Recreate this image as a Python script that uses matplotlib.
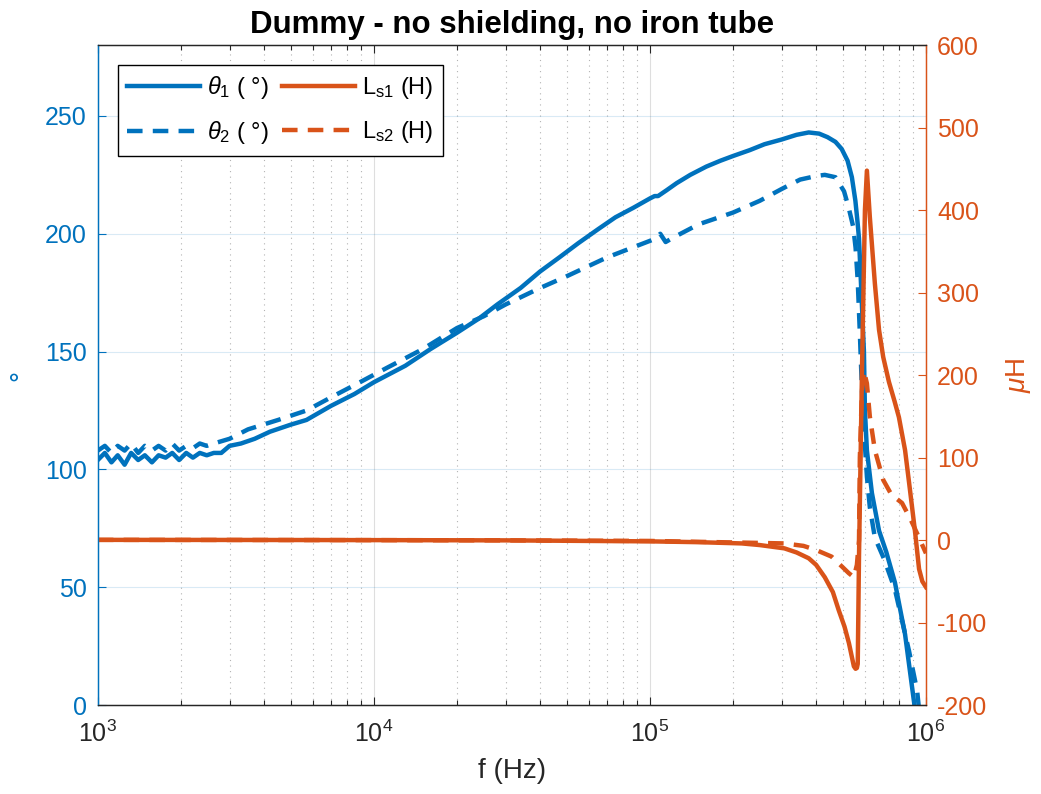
import numpy as np
import matplotlib
matplotlib.use("Agg")
import matplotlib.pyplot as plt

plt.rcParams['font.family'] = ['Liberation Sans', 'DejaVu Sans']
plt.rcParams['mathtext.fontset'] = 'custom'
plt.rcParams['mathtext.rm'] = 'Liberation Sans'
plt.rcParams['mathtext.it'] = 'Liberation Sans:italic'
plt.rcParams['mathtext.bf'] = 'Liberation Sans:bold'
plt.rcParams['axes.unicode_minus'] = False

BLUE = '#0072BD'
ORANGE = '#D95319'
DARK = '#262626'

# ---------------- data ----------------
f_theta1 = [1000, 1060, 1120, 1180, 1250, 1320, 1400, 1480, 1570, 1660, 1760, 1860,
            1970, 2090, 2210, 2340, 2480, 2630, 2800, 3000, 3300, 3700, 4200, 5000,
            5700, 7000, 8500, 10000, 13000, 16000, 20000, 24000, 28000, 34000, 40000,
            47000, 55000, 65000, 75000, 87000, 100000, 104000, 107000, 115000, 125000,
            140000, 160000, 180000, 200000, 230000, 260000, 300000, 340000, 376000,
            410000, 440000, 470000, 495000, 520000, 539000, 555000, 565000, 572000,
            586000, 596000, 601000, 611000, 637000, 676000, 718000, 772000, 840000,
            906000, 930000]
theta1 = [104, 107, 103, 106, 102, 107, 104, 106, 103, 106, 105, 107,
          104, 107, 105, 107, 106, 107, 107, 110, 111, 113, 116, 119,
          121, 127, 132, 137, 144, 151, 158, 164, 170, 177, 184,
          190, 196, 202, 207, 211, 215, 216, 216, 218.5, 221.5,
          225, 228.5, 231, 233, 235.5, 238, 240, 242, 243,
          242.5, 241, 239, 236, 231, 224, 214, 205, 198,
          170, 150, 125, 108, 90, 74, 65, 52, 30,
          1, -10]

f_theta2 = [1000, 1060, 1120, 1180, 1250, 1320, 1400, 1480, 1570, 1660, 1760, 1860,
            1970, 2090, 2210, 2340, 2480, 2630, 3000, 3500, 4500, 5700, 7100, 8900,
            11100, 15000, 20000, 25000, 30000, 40000, 50000, 70000, 100000, 105000,
            109000, 114000, 122000, 150000, 200000, 250000, 300000, 350000, 400000,
            430000, 470000, 505000, 525000, 545000, 556000, 566000, 576000, 590000,
            611000, 626000, 653000, 705000, 772000, 868000, 929000, 950000]
theta2 = [108, 110, 107, 110, 108, 111, 107, 110, 108, 110, 108, 111,
          108, 110, 109, 111, 110, 111, 113, 117, 121, 125, 131, 137,
          143, 151, 160, 165, 170, 177, 182, 190, 197, 198,
          200, 196.5, 198.5, 204, 209, 214, 219, 223, 224.5,
          225, 224, 218, 211, 203, 194, 180, 158, 125,
          97, 84, 71, 62, 49, 23, 6, -5]

f_Ls1 = [1000, 3000, 10000, 30000, 100000, 150000, 215000, 250000, 307000, 340000,
         376000, 400000, 430000, 460000, 483000, 507000, 526000, 540000, 548000,
         556000, 562000, 566000, 572000, 586000, 601000, 611000, 626000, 653000,
         676000, 700000, 734000, 770000, 798000, 840000, 875000, 913000, 944000,
         970000, 1000000]
Ls1 = [0.3, 0.2, 0, -0.3, -1.5, -2.5, -4, -6, -10, -15,
       -22, -30, -45, -63, -85, -105, -125, -143, -153,
       -156, -155, -150, -20, 200, 400, 448, 392, 311,
       255, 222, 192, 168, 149, 109, 61, 10, -35,
       -50, -57]

f_Ls2 = [1000, 3000, 10000, 30000, 100000, 215000, 307000, 360000, 400000, 455000,
         496000, 525000, 548000, 562000, 572000, 576000, 586000, 596000, 611000,
         626000, 653000, 700000, 750000, 819000, 880000, 929000, 1000000]
Ls2 = [0.3, 0.2, 0, -0.3, -1, -3, -4, -7, -12, -20,
       -32, -40, -45, -30, 0, 100, 180, 205, 190,
       150, 109, 73, 55, 45, 25, 8, -16]

theta_ticks = [0, 50, 100, 150, 200, 250]
L_ticks = [-200, -100, 0, 100, 200, 300, 400, 500, 600]

# ---------------- figure ----------------
fig = plt.figure(figsize=(10.41, 7.94), dpi=100)
ax = fig.add_axes([0.094, 0.112, 0.7955, 0.831])
ax2 = ax.twinx()

lw = 3.2
dash = (3.5, 2.3)
l1, = ax.plot(f_theta1, theta1, color=BLUE, lw=lw, label=r'$\theta_1$ ( °)')
l2, = ax.plot(f_theta2, theta2, color=BLUE, lw=lw, ls='--', dashes=dash, label=r'$\theta_2$ ( °)')
l3, = ax2.plot(f_Ls1, Ls1, color=ORANGE, lw=lw, label=r'L$_{\mathrm{s1}}$ (H)')
l4, = ax2.plot(f_Ls2, Ls2, color=ORANGE, lw=lw, ls='--', dashes=dash, label=r'L$_{\mathrm{s2}}$ (H)')

ax.set_xscale('log')
ax.set_xlim(1e3, 1e6)
ax.set_ylim(0, 280)
ax2.set_ylim(-200, 600)
ax.set_yticks(theta_ticks)
ax2.set_yticks(L_ticks)

ax.grid(which='major', axis='x', color=DARK, alpha=0.15, lw=0.8)
ax.grid(which='minor', axis='x', color=DARK, alpha=0.35, lw=0.8, ls=(0, (1, 4)))
ax.grid(which='major', axis='y', color=BLUE, alpha=0.15, lw=0.8)

ax.tick_params(axis='x', which='both', direction='in', top=True, colors=DARK, labelsize=18, pad=11)
ax.tick_params(axis='x', which='major', length=6, width=0.8)
ax.tick_params(axis='x', which='minor', length=3.5, width=0.8)
ax.tick_params(axis='y', direction='in', length=6, width=0.8, colors=BLUE, labelsize=18, pad=8)
ax2.tick_params(axis='y', direction='in', length=6, width=0.8, colors=ORANGE, labelsize=18, pad=8)

for s in ['top', 'bottom']:
    ax.spines[s].set_color(DARK)
    ax2.spines[s].set_color(DARK)
ax2.spines['left'].set_color(BLUE)
ax2.spines['right'].set_color(ORANGE)
ax.spines['left'].set_color(BLUE)
ax.spines['right'].set_color(ORANGE)
for a in (ax, ax2):
    for s in a.spines.values():
        s.set_linewidth(0.9)

ax.set_xlabel('f (Hz)', fontsize=20, color=DARK, labelpad=8)
ax.set_ylabel('°', fontsize=20, color=BLUE, labelpad=7)
ax2.set_ylabel(r'$\mu$H', fontsize=20, color=ORANGE, labelpad=12)
ax.set_title('Dummy - no shielding, no iron tube', fontsize=22.5, fontweight='bold', color='black', pad=9)

leg = ax2.legend(handles=[l1, l2, l3, l4], ncol=2, loc='upper left',
                 bbox_to_anchor=(0.024, 0.97), borderaxespad=0, fontsize=17,
                 handlelength=3.1, handletextpad=0.3, columnspacing=0.55,
                 labelspacing=0.75, fancybox=False, framealpha=1, edgecolor='black',
                 borderpad=0.4)
leg.get_frame().set_linewidth(1.0)

fig.savefig('out.png', dpi=100)
